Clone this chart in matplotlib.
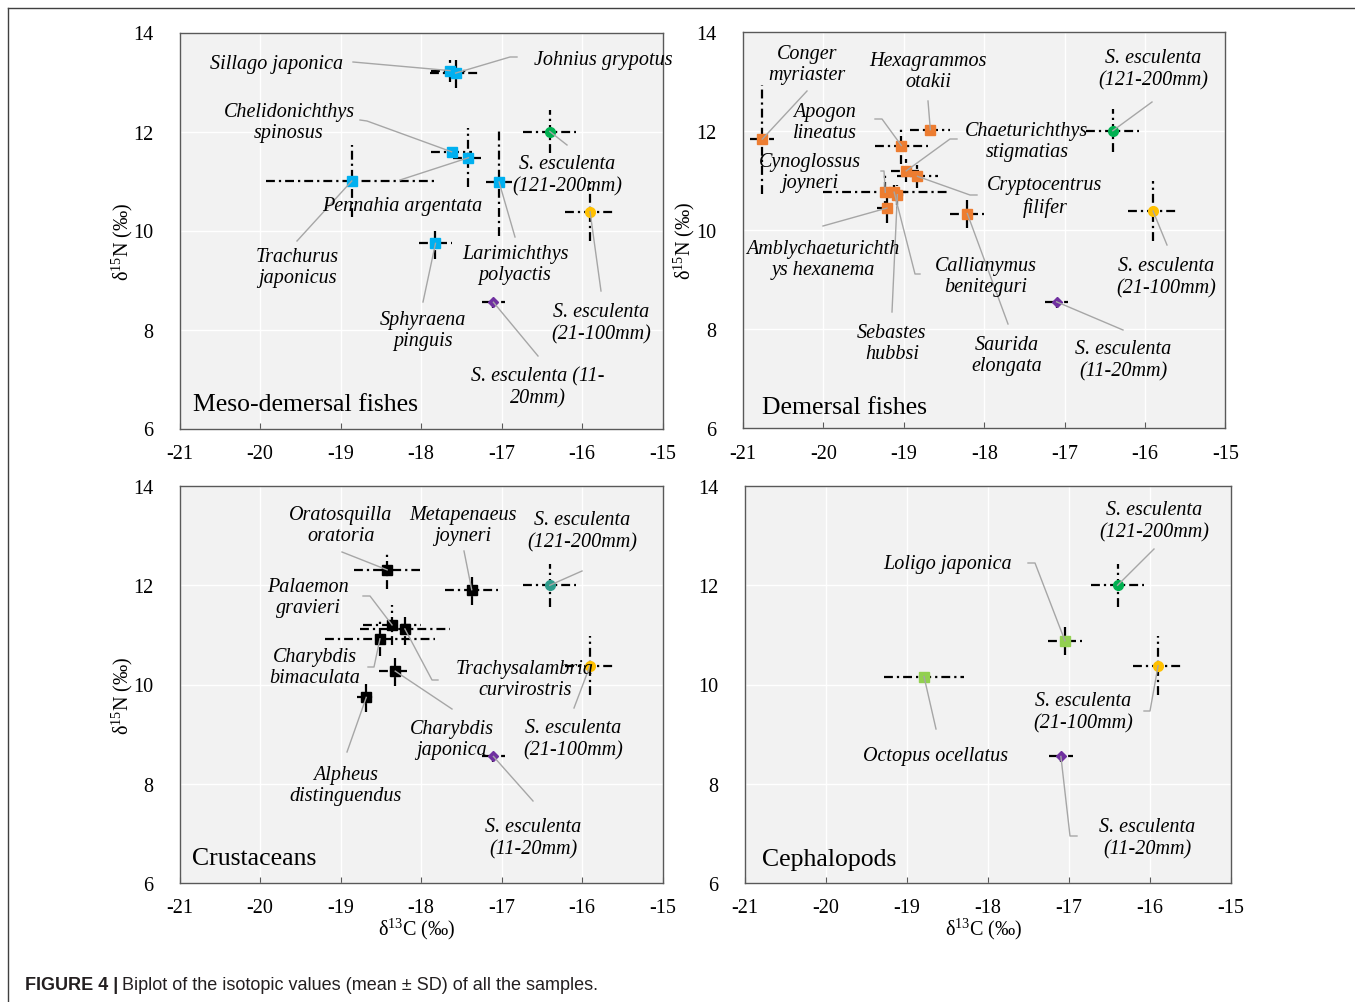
import matplotlib
matplotlib.use("Agg")
import matplotlib.pyplot as plt
from matplotlib.lines import Line2D

W, H = 1355, 1003
plt.rcParams['font.family'] = ['Liberation Serif', 'DejaVu Serif']
plt.rcParams['mathtext.fontset'] = 'custom'
plt.rcParams['mathtext.rm'] = 'Liberation Serif'
plt.rcParams['mathtext.it'] = 'Liberation Serif:italic'

# ---------------- data (mean and SD) ----------------
# S. esculenta (reference in every panel)
sesc_names = ['121-200mm', '21-100mm', '11-20mm']
sesc_c = [-16.40, -15.90, -17.10]
sesc_n = [12.00, 10.38, 8.55]
sesc_csd = [0.33, 0.31, 0.145]
sesc_nsd = [0.43, 0.60, 0.12]

meso_names = ['Sillago japonica', 'Johnius grypotus', 'Chelidonichthys spinosus',
              'Pennahia argentata', 'Trachurus japonicus', 'Larimichthys polyactis',
              'Sphyraena pinguis']
meso_c = [-17.64, -17.57, -17.62, -17.41, -18.86, -17.03, -17.82]
meso_n = [13.23, 13.18, 11.59, 11.47, 11.00, 10.98, 9.74]
meso_csd = [0.24, 0.32, 0.25, 0.19, 1.06, 0.16, 0.21]
meso_nsd = [0.22, 0.30, 0.12, 0.60, 0.72, 1.10, 0.32]

dem_names = ['Conger myriaster', 'Hexagrammos otakii', 'Apogon lineatus',
             'Chaeturichthys stigmatias', 'Cryptocentrus filifer', 'Cynoglossus joyneri',
             'Callionymus beniteguri', 'Sebastes hubbsi', 'Amblychaeturichthys hexanema',
             'Saurida elongata']
dem_c = [-20.76, -18.67, -19.03, -18.97, -18.83, -19.23, -19.12, -19.08, -19.21, -18.21]
dem_n = [11.83, 12.02, 11.70, 11.19, 11.08, 10.76, 10.76, 10.71, 10.44, 10.33]
dem_csd = [0.15, 0.25, 0.33, 0.19, 0.26, 0.78, 0.15, 0.12, 0.12, 0.21]
dem_nsd = [1.10, 0.08, 0.38, 0.23, 0.23, 0.35, 0.15, 0.20, 0.30, 0.30]

crus_names = ['Oratosquilla oratoria', 'Metapenaeus joyneri', 'Palaemon gravieri',
              'Trachysalambria curvirostris', 'Charybdis bimaculata', 'Charybdis japonica',
              'Alpheus distinguendus']
crus_c = [-18.42, -17.37, -18.36, -18.20, -18.51, -18.32, -18.68]
crus_n = [12.31, 11.91, 11.20, 11.12, 10.92, 10.27, 9.74]
crus_csd = [0.41, 0.33, 0.36, 0.56, 0.68, 0.20, 0.12]
crus_nsd = [0.39, 0.31, 0.40, 0.33, 0.35, 0.31, 0.30]

ceph_names = ['Loligo japonica', 'Octopus ocellatus']
ceph_c = [-17.05, -18.79]
ceph_n = [10.88, 10.16]
ceph_csd = [0.21, 0.49]
ceph_nsd = [0.28, 0.05]

x_ticks = [-21, -20, -19, -18, -17, -16, -15]
y_ticks = [6, 8, 10, 12, 14]

# ---------------- styles / layout ----------------
BG = '#f2f2f2'
LEAD = '#a6a6a6'
SESC_COL = ['#00b050', '#ffc000', '#7030a0']
SESC_MK = ['o', 'o', 'D']
EB_STYLE = (0, (4.0, 1.8, 1.0, 1.8))
LAB_FS = 14.5

fig = plt.figure(figsize=(W / 100, H / 100), dpi=100)

def fpos(l, r, t, b):
    return [l / W, 1 - b / H, (r - l) / W, (b - t) / H]

panels = [
    dict(pos=fpos(179.5, 662.5, 33.5, 429.5), title='Meso-demersal fishes', tpos=(193, 405),
         c=meso_c, n=meso_n, csd=meso_csd, nsd=meso_nsd, col='#00b0f0', mk='s',
         ylab=True, xlab=False, teal=False),
    dict(pos=fpos(743, 1225.4, 32.5, 429.3), title='Demersal fishes', tpos=(762, 408),
         c=dem_c, n=dem_n, csd=dem_csd, nsd=dem_nsd, col='#ed7d31', mk='s',
         ylab=True, xlab=False, teal=False),
    dict(pos=fpos(179.5, 662.5, 487, 884), title='Crustaceans', tpos=(192, 859),
         c=crus_c, n=crus_n, csd=crus_csd, nsd=crus_nsd, col='#000000', mk='s',
         ylab=True, xlab=True, teal=True),
    dict(pos=fpos(745, 1231, 487, 884), title='Cephalopods', tpos=(762, 860),
         c=ceph_c, n=ceph_n, csd=ceph_csd, nsd=ceph_nsd, col='#92d050', mk='s',
         ylab=False, xlab=True, teal=False),
]

# label layout: (group, index, text, text px, text py, leader path in figure pixels)
labels = [
    [  # meso-demersal
        ('sp', 0, 'Sillago japonica', 277, 64, [(353, 63)]),
        ('sp', 1, 'Johnius grypotus', 603, 61, [(517, 58), (510, 58)]),
        ('sp', 2, 'Chelidonichthys\nspinosus', 289, 123, [(360, 121), (367, 122)]),
        ('sp', 3, 'Pennahia argentata', 402, 206, [(400, 181)]),
        ('sp', 4, 'Trachurus\njaponicus', 297, 268, [(297, 242)]),
        ('sp', 5, 'Larimichthys\npolyactis', 515, 265, [(515, 238)]),
        ('sp', 6, 'Sphyraena\npinguis', 423, 331, [(423, 303)]),
        ('se', 0, 'S. esculenta\n(121-200mm)', 567, 176, [(567, 146)]),
        ('se', 1, 'S. esculenta\n(21-100mm)', 601, 324, [(601, 292)]),
        ('se', 2, 'S. esculenta (11-\n20mm)', 538, 388, [(538, 357)]),
    ],
    [  # demersal
        ('sp', 0, 'Conger\nmyriaster', 807, 65, [(807, 92)]),
        ('sp', 1, 'Hexagrammos\notakii', 928, 72, [(928, 102)]),
        ('sp', 2, 'Apogon\nlineatus', 825, 123, [(875, 120), (882, 120)]),
        ('sp', 3, 'Chaeturichthys\nstigmatias', 1027, 142, [(957, 140), (950, 140)]),
        ('sp', 4, 'Cryptocentrus\nfilifer', 1045, 197, [(977, 196), (970, 196)]),
        ('sp', 5, 'Cynoglossus\njoyneri', 810, 173, [(881, 172), (884, 172)]),
        ('sp', 6, 'Callianymus\nbeniteguri', 986, 277, [(920, 275), (915, 275)]),
        ('sp', 7, 'Sebastes\nhubbsi', 892, 344, [(892, 313)]),
        ('sp', 8, 'Amblychaeturichth\nys hexanema', 823, 260, [(823, 227)]),
        ('sp', 9, 'Saurida\nelongata', 1007, 356, [(1008, 325)]),
        ('se', 0, 'S. esculenta\n(121-200mm)', 1153, 70, [(1152, 103)]),
        ('se', 1, 'S. esculenta\n(21-100mm)', 1166, 278, [(1167, 246)]),
        ('se', 2, 'S. esculenta\n(11-20mm)', 1123, 361, [(1123, 331)]),
    ],
    [  # crustaceans
        ('sp', 0, 'Oratosquilla\noratoria', 341, 526, [(342, 553)]),
        ('sp', 1, 'Metapenaeus\njoyneri', 463, 526, [(464, 552)]),
        ('sp', 2, 'Palaemon\ngravieri', 308, 598, [(363, 597), (370, 597)]),
        ('sp', 3, 'Trachysalambria\ncurvirostris', 525, 680, [(438, 681), (432, 681)]),
        ('sp', 4, 'Charybdis\nbimaculata', 315, 668, [(368, 668), (374, 668)]),
        ('sp', 5, 'Charybdis\njaponica', 452, 740, [(452, 710)]),
        ('sp', 6, 'Alpheus\ndistinguendus', 346, 786, [(347, 753)]),
        ('se', 0, 'S. esculenta\n(121-200mm)', 582, 532, [(582, 572)]),
        ('se', 1, 'S. esculenta\n(21-100mm)', 573, 740, [(574, 709)]),
        ('se', 2, 'S. esculenta\n(11-20mm)', 533, 839, [(533, 802)]),
    ],
    [  # cephalopods
        ('sp', 0, 'Loligo japonica', 948, 565, [(1028, 564), (1035, 564)]),
        ('sp', 1, 'Octopus ocellatus', 936, 757, [(936, 730)]),
        ('se', 0, 'S. esculenta\n(121-200mm)', 1154, 522, [(1154, 550)]),
        ('se', 1, 'S. esculenta\n(21-100mm)', 1083, 713, [(1144, 712), (1150, 712)]),
        ('se', 2, 'S. esculenta\n(11-20mm)', 1147, 839, [(1077, 837), (1070, 837)]),
    ],
]


def errbars(ax, x, y, xe, ye):
    eb = ax.errorbar(x, y, xerr=xe, yerr=ye, fmt='none', ecolor='black',
                     elinewidth=1.6, capsize=0, zorder=3)
    for lc in eb[2]:
        lc.set_linestyle(EB_STYLE)


for pi, p in enumerate(panels):
    ax = fig.add_axes(p['pos'])
    ax.set_facecolor(BG)
    ax.set_xlim(-21, -15)
    ax.set_ylim(6, 14)
    ax.set_xticks(x_ticks)
    ax.set_yticks(y_ticks)
    ax.set_xticklabels([str(v) for v in x_ticks])
    ax.set_yticklabels([str(v) for v in y_ticks])
    ax.grid(True, color='white', lw=1.0, zorder=0)
    ax.set_axisbelow(True)
    for s in ax.spines.values():
        s.set_color('#595959')
        s.set_linewidth(1.0)
    ax.tick_params(axis='x', direction='in', length=4, color='#595959', labelsize=14.5, pad=11)
    ax.tick_params(axis='y', direction='in', length=0, labelsize=14.5, pad=19)

    # error bars
    errbars(ax, p['c'], p['n'], p['csd'], p['nsd'])
    errbars(ax, sesc_c, sesc_n, sesc_csd, sesc_nsd)
    # markers
    ax.plot(p['c'], p['n'], linestyle='none', marker=p['mk'], ms=7.5,
            color=p['col'], mec=p['col'], zorder=4)
    for k in range(3):
        col = SESC_COL[k]
        if k == 0 and p['teal']:
            col = '#2e9c8c'
        ax.plot(sesc_c[k], sesc_n[k], linestyle='none', marker=SESC_MK[k],
                ms=7 if SESC_MK[k] == 'o' else 5.5, color=col, mec=col, zorder=4)

    if p['ylab']:
        ax.set_ylabel('δ$^{15}$N (‰)', fontsize=14.5)
        ax.yaxis.set_label_coords(-0.092 if pi != 1 else -0.095, 0.475)
    if p['xlab']:
        ax.set_xlabel('δ$^{13}$C (‰)', fontsize=14.5)
        ax.xaxis.set_label_coords(0.49, -0.083)

    # panel title
    fig.text(p['tpos'][0] / W, 1 - p['tpos'][1] / H, p['title'], fontsize=18.5,
             ha='left', va='center')

    # labels + leader lines
    inv = ax.transData.inverted()
    for grp, idx, txt, tx, ty, path in labels[pi]:
        fig.text(tx / W, 1 - ty / H, txt, fontsize=LAB_FS, style='italic',
                 ha='center', va='center', linespacing=1.2, zorder=6)
        if grp == 'sp':
            mx, my = p['c'][idx], p['n'][idx]
        else:
            mx, my = sesc_c[idx], sesc_n[idx]
        pts = [inv.transform((px, H - py)) for px, py in path]
        xs = [q[0] for q in pts] + [mx]
        ys = [q[1] for q in pts] + [my]
        ax.plot(xs, ys, color=LEAD, lw=1.0, zorder=5, clip_on=False)

# outer frame
fig.add_artist(Line2D([8 / W, 8 / W], [0, 1 - 9 / H], transform=fig.transFigure,
                      color='#404040', lw=1.0))
fig.add_artist(Line2D([8 / W, 1], [1 - 9 / H, 1 - 9 / H], transform=fig.transFigure,
                      color='#404040', lw=1.0))

# caption
t1 = fig.text(25 / W, 1 - 985 / H, 'FIGURE 4 |', family=['Liberation Sans', 'DejaVu Sans'],
              fontsize=13, fontweight='bold', ha='left', va='center', color='#231f20')
r = fig.canvas.get_renderer()
bb = t1.get_window_extent(renderer=r)
fig.text((bb.x1 + 4) / W, 1 - 985 / H,
         'Biplot of the isotopic values (mean ± SD) of all the samples.',
         family=['Liberation Sans', 'DejaVu Sans'], fontsize=13, ha='left', va='center',
         color='#231f20')

fig.savefig('out.png', dpi=100, facecolor='white')
